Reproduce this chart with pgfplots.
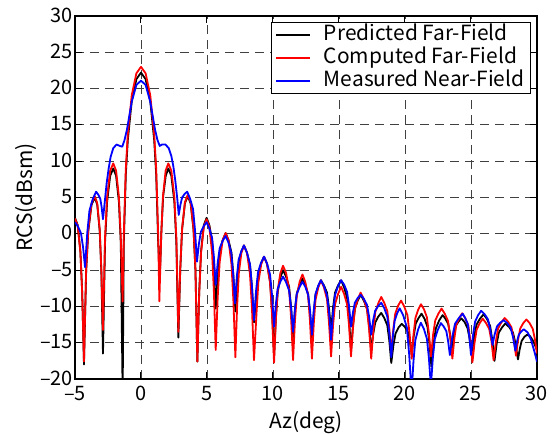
\documentclass[border=0pt]{standalone}
\usepackage{fontspec}
\setmainfont{Noto Sans CJK JP}
\usepackage{pgfplots}
\pgfplotsset{compat=1.18}
\pgfplotsset{myleg/.style={legend image code/.code={\draw[##1,line width=1.8bp] (0bp,0bp) -- (34bp,0bp);}}}
\begin{document}
\begin{tikzpicture}
\useasboundingbox (-75bp,-55bp) rectangle (479bp,379bp);
\begin{axis}[
  scale only axis, width=462bp, height=363bp,
  xmin=-5, xmax=30, ymin=-20, ymax=30,
  xtick={-5,0,5,10,15,20,25,30},
  xticklabels={–5,0,5,10,15,20,25,30},
  ytick={-20,-15,-10,-5,0,5,10,15,20,25,30},
  yticklabels={–20,–15,–10,–5,0,5,10,15,20,25,30},
  tick label style={font=\fontsize{20}{20}\selectfont},
  yticklabel style={xshift=1.5bp, yshift=1bp},
  xticklabel style={yshift=-4bp},
  label style={font=\fontsize{21}{21}\selectfont},
  xlabel={Az(deg)}, ylabel={RCS(dBsm)},
  xlabel shift=3bp, ylabel shift=-3bp,
  grid=major,
  major grid style={draw=black!75, line width=0.9bp, dash pattern=on 9bp off 6bp},
  axis line style={line width=1.2bp},
  major tick style={line width=1bp, black},
  major tick length=7bp,
  tick align=inside,
  every axis plot/.append style={line width=1.8bp, line join=round},
  legend style={at={(1,1)}, anchor=north east, xshift=-6bp, yshift=-6bp,
    line width=1.2bp, fill=white,
    font=\fontsize{21}{21}\selectfont, inner xsep=4bp, inner ysep=1bp, row sep=0bp,
    nodes={inner sep=2bp, text height=15bp, text depth=4bp},
    /tikz/every odd column/.append style={column sep=11bp}},
  legend cell align=left,
]
% predicted far-field
\addplot[black, myleg] coordinates {
(-5.0,2.2) (-4.796,1.2) (-4.592,-2.4) (-4.456,-8.0) (-4.32,-18.0)
(-4.156,-5.2) (-3.992,0.4) (-3.746,4.0) (-3.5,5.0) (-3.314,4.0) (-3.128,0.4) (-3.004,-5.2) (-2.88,-16.5)
(-2.724,-1.2) (-2.568,4.4) (-2.334,8.0) (-2.1,9.0) (-1.887,8.0) (-1.674,4.4) (-1.532,-1.2) (-1.39,-22)
(-1.3,-1.0) (-1.15,8.2) (-1.0,12.9) (-0.7,18.3) (-0.35,21.3) (0,22.2) (0.35,21.3) (0.7,18.3) (1.0,12.9) (1.15,8.2) (1.3,-1.0) (1.42,-6.3)
(1.55,0.6) (1.68,5.2) (1.875,8.0) (2.07,9.0) (2.298,8.0) (2.526,4.4) (2.678,-1.2) (2.83,-14.3)
(2.972,-5.0) (3.114,0.6) (3.327,4.2) (3.54,5.2) (3.759,4.2) (3.978,0.6) (4.124,-5.0) (4.27,-17.6)
(4.41,-8.0) (4.55,-2.4) (4.76,1.2) (4.97,2.2) (5.177,1.2) (5.384,-0.9) (5.522,-4.7) (5.66,-10.3)
(5.81,-5.6) (5.96,-2.5) (6.185,-0.9) (6.41,0.1) (6.632,-0.9) (6.854,-2.6) (7.002,-5.8) (7.15,-10.7)
(7.28,-6.6) (7.41,-3.9) (7.605,-2.5) (7.8,-1.6) (8.028,-2.6) (8.256,-4.25) (8.408,-7.4) (8.56,-12.2)
(8.75,-8.15) (8.89,-5.4) (9.11,-4.05) (9.32,-3.15) (9.55,-4.15) (9.78,-6.6) (9.93,-10.7) (10.08,-16.9)
(10.22,-11.5) (10.36,-8.0) (10.56,-6.0) (10.76,-5.0) (10.99,-5.9) (11.22,-7.3) (11.37,-10.1) (11.52,-14.3)
(11.66,-10.65) (11.80,-8.2) (12.02,-7.0) (12.23,-6.2) (12.44,-7.0) (12.66,-8.3) (12.80,-10.8) (12.95,-14.5)
(13.09,-10.85) (13.22,-8.4) (13.43,-7.2) (13.63,-6.4) (13.86,-7.1) (14.09,-8.1) (14.24,-10.2) (14.40,-13.3)
(14.55,-10.2) (14.70,-8.1) (14.93,-7.1) (15.16,-6.4) (15.39,-7.4) (15.61,-8.8) (15.76,-11.7) (15.91,-16.0)
(16.06,-12.6) (16.21,-10.3) (16.42,-9.2) (16.64,-8.4) (16.88,-9.2) (17.12,-10.3) (17.28,-12.6) (17.44,-16.0)
(17.60,-13.7) (17.75,-12.2) (17.98,-11.4) (18.20,-10.9) (18.43,-11.6) (18.66,-12.6) (18.81,-14.7) (18.96,-17.8)
(19.12,-15.4) (19.28,-13.75) (19.51,-12.9) (19.75,-12.4) (19.98,-12.8) (20.21,-13.45) (20.36,-14.7) (20.51,-16.6)
(20.66,-14.1) (20.81,-12.4) (21.03,-11.6) (21.25,-11.0) (21.48,-11.7) (21.70,-12.8) (21.85,-15.0) (22.00,-18.3)
(22.17,-15.1) (22.34,-13.0) (22.60,-11.9) (22.85,-11.2) (23.06,-11.7) (23.27,-12.4) (23.41,-13.8) (23.55,-16.0)
(23.69,-14.0) (23.84,-12.7) (24.05,-12.1) (24.27,-11.65) (24.51,-12.15) (24.74,-13.0) (24.90,-14.5) (25.06,-16.8)
(25.24,-14.2) (25.42,-12.5) (25.68,-11.7) (25.95,-11.1) (26.20,-11.7) (26.45,-12.7) (26.61,-14.6) (26.78,-17.5)
(26.94,-15.2) (27.11,-13.6) (27.35,-12.9) (27.60,-12.35) (27.89,-12.85) (28.18,-13.6) (28.37,-15.1) (28.56,-17.3)
(28.70,-15.8) (28.84,-14.75) (29.04,-14.2) (29.25,-13.9) (29.48,-14.1) (29.72,-14.8) (30.0,-16.0)
};
% computed far-field
\addplot[red, myleg] coordinates {
(-5.0,2.1) (-4.796,1.1) (-4.592,-2.5) (-4.456,-8.1) (-4.32,-17.6)
(-4.156,-5.0) (-3.992,0.6) (-3.746,4.2) (-3.5,5.2) (-3.314,4.2) (-3.128,0.6) (-3.004,-4.9) (-2.88,-13.25)
(-2.724,-0.5) (-2.568,5.1) (-2.334,8.7) (-2.1,9.7) (-1.887,8.7) (-1.674,5.1) (-1.532,-0.5) (-1.39,-9.35)
(-1.3,0) (-1.15,9.0) (-1.0,13.7) (-0.7,19.1) (-0.35,22.1) (0,23.0) (0.35,22.1) (0.7,19.1) (1.0,13.7) (1.15,9.0) (1.3,0) (1.39,-9.3)
(1.526,-0.5) (1.662,5.1) (1.866,8.7) (2.07,9.7) (2.298,8.7) (2.526,5.1) (2.678,-0.5) (2.83,-13.5)
(2.972,-4.85) (3.114,0.75) (3.327,4.35) (3.54,5.35) (3.759,4.35) (3.978,0.75) (4.124,-4.85) (4.27,-17.6)
(4.41,-8.2) (4.55,-2.6) (4.76,1.0) (4.97,2.0) (5.177,1.0) (5.384,-2.6) (5.522,-7.9) (5.66,-16.0)
(5.81,-8.8) (5.96,-3.9) (6.185,-0.9) (6.41,0.1) (6.632,-0.9) (6.854,-4.2) (7.002,-9.3) (7.15,-17.0)
(7.28,-10.1) (7.41,-5.45) (7.605,-2.6) (7.8,-1.6) (8.028,-2.6) (8.256,-5.55) (8.408,-10.3) (8.56,-17.4)
(8.75,-11.0) (8.89,-6.7) (9.11,-4.15) (9.32,-3.15) (9.55,-4.15) (9.78,-6.8) (9.93,-11.2) (10.08,-17.75)
(10.22,-11.7) (10.36,-7.7) (10.56,-5.4) (10.76,-4.4) (10.99,-5.4) (11.22,-7.65) (11.37,-11.55) (11.52,-17.4)
(11.66,-12.1) (11.80,-8.55) (12.02,-6.6) (12.23,-5.6) (12.44,-6.6) (12.66,-8.5) (12.80,-12.0) (12.95,-17.2)
(13.09,-12.35) (13.22,-9.1) (13.43,-7.4) (13.63,-6.4) (13.86,-7.4) (14.09,-9.0) (14.24,-12.2) (14.40,-16.9)
(14.55,-12.6) (14.70,-9.7) (14.93,-8.3) (15.16,-7.3) (15.39,-8.3) (15.61,-9.7) (15.76,-12.6) (15.91,-16.9)
(16.06,-12.95) (16.21,-10.3) (16.42,-9.0) (16.64,-8.1) (16.88,-9.0) (17.12,-10.4) (17.28,-13.1) (17.44,-17.2)
(17.60,-13.4) (17.75,-10.8) (17.98,-9.55) (18.20,-8.7) (18.43,-9.5) (18.66,-10.65) (18.81,-13.0) (18.96,-16.5)
(19.11,-13.2) (19.26,-11.0) (19.48,-9.9) (19.70,-9.2) (19.94,-10.0) (20.18,-11.2) (20.34,-13.6) (20.51,-17.2)
(20.65,-13.8) (20.79,-11.6) (21.00,-10.45) (21.21,-9.7) (21.44,-10.4) (21.66,-11.5) (21.81,-13.7) (21.97,-16.9)
(22.13,-13.9) (22.29,-11.95) (22.53,-11.0) (22.77,-10.3) (23.01,-11.0) (23.26,-12.0) (23.42,-14.1) (23.59,-17.2)
(23.74,-14.4) (23.89,-12.5) (24.11,-11.6) (24.33,-10.95) (24.56,-11.6) (24.80,-12.65) (24.95,-14.7) (25.11,-17.7)
(25.27,-15.0) (25.43,-13.2) (25.66,-12.3) (25.89,-11.7) (26.14,-12.3) (26.38,-13.1) (26.55,-14.8) (26.71,-17.4)
(26.89,-14.8) (27.05,-13.05) (27.30,-12.2) (27.55,-11.6) (27.81,-12.1) (28.07,-12.9) (28.24,-14.5) (28.41,-16.8)
(28.57,-14.55) (28.73,-13.05) (28.96,-12.3) (29.20,-11.8) (29.44,-12.3) (29.68,-13.1) (29.84,-14.5) (30.0,-16.5)
};
% measured near-field
\addplot[blue, myleg] coordinates {
(-5.0,1.6) (-4.772,1.0) (-4.544,0.05) (-4.392,-1.8) (-4.24,-4.6)
(-4.072,0.1) (-3.904,3.2) (-3.652,4.8) (-3.4,5.8) (-3.244,5.4) (-3.088,4.85) (-2.984,3.7) (-2.88,2.0)
(-2.75,4.3) (-2.6,7.0) (-2.45,9.0) (-2.3,10.6) (-2.1,11.8) (-1.85,12.3) (-1.6,12.1) (-1.42,12.0) (-1.25,12.9) (-1.07,14.3)
(-0.7,18.2) (-0.35,20.5) (0,21.1) (0.35,20.5) (0.7,18.2) (1.07,14.3) (1.25,12.9) (1.42,12.1) (1.6,12.3) (1.85,12.3) (2.1,11.8) (2.3,10.7) (2.45,9.3) (2.6,7.3) (2.75,4.8) (2.86,2.6)
(2.988,4.0) (3.116,5.0) (3.308,5.5) (3.5,5.8) (3.722,4.83) (3.944,3.4) (4.092,0.5) (4.24,-3.85)
(4.386,-1.4) (4.532,0.24) (4.751,1.06) (4.97,1.6) (5.177,0.74) (5.384,-0.56) (5.522,-3.16) (5.66,-7.05)
(5.81,-4.0) (5.96,-2.0) (6.185,-0.98) (6.41,-0.3) (6.623,-1.2) (6.836,-2.6) (6.978,-5.4) (7.12,-9.6)
(7.256,-6.0) (7.392,-3.6) (7.596,-2.4) (7.8,-1.6) (8.028,-2.6) (8.256,-4.2) (8.408,-7.3) (8.56,-11.9)
(8.712,-7.95) (8.864,-5.3) (9.092,-4.0) (9.32,-3.15) (9.548,-4.1) (9.776,-5.6) (9.928,-8.45) (10.08,-12.8)
(10.216,-9.7) (10.352,-7.6) (10.556,-6.6) (10.76,-5.9) (10.988,-6.66) (11.216,-7.8) (11.368,-10.1) (11.52,-13.5)
(11.66,-10.4) (11.80,-8.3) (12.02,-7.3) (12.23,-6.6) (12.45,-7.3) (12.66,-8.4) (12.81,-10.6) (12.95,-13.9)
(13.09,-10.5) (13.22,-8.3) (13.43,-7.15) (13.63,-6.4) (13.86,-7.2) (14.09,-8.45) (14.25,-10.9) (14.40,-14.6)
(14.55,-10.9) (14.70,-8.45) (14.93,-7.2) (15.16,-6.4) (15.39,-7.0) (15.61,-8.0) (15.76,-9.9) (15.91,-12.8)
(16.06,-10.8) (16.20,-9.5) (16.42,-8.84) (16.64,-8.4) (16.88,-8.95) (17.12,-9.8) (17.28,-11.4) (17.44,-13.9)
(17.59,-11.9) (17.74,-10.6) (17.97,-9.94) (18.20,-9.5) (18.43,-10.25) (18.66,-11.4) (18.81,-13.6) (18.96,-17.0)
(19.09,-13.96) (19.22,-11.95) (19.41,-10.93) (19.60,-10.26) (19.87,-11.26) (20.14,-12.9) (20.32,-16.7) (20.50,-22)
(20.64,-17.6) (20.78,-14.7) (20.99,-13.2) (21.20,-12.25) (21.43,-13.1) (21.66,-14.45) (21.81,-17.1) (21.96,-21)
(22.11,-17.1) (22.26,-14.5) (22.49,-13.2) (22.72,-12.3) (22.92,-12.74) (23.13,-13.4) (23.26,-14.7) (23.40,-16.7)
(23.59,-14.1) (23.79,-12.4) (24.08,-11.6) (24.37,-11.0) (24.56,-11.6) (24.75,-12.4) (24.87,-14.1) (25.00,-16.7)
(25.15,-14.0) (25.31,-12.1) (25.54,-11.2) (25.77,-10.6) (26.03,-11.07) (26.29,-11.8) (26.46,-13.2) (26.63,-15.3)
(26.80,-13.8) (26.97,-12.75) (27.22,-12.24) (27.47,-11.9) (27.74,-12.3) (28.00,-12.95) (28.18,-14.2) (28.36,-16.1)
(28.49,-14.8) (28.62,-13.9) (28.81,-13.45) (29.00,-13.15) (29.30,-13.6) (29.55,-14.6) (29.80,-16.2) (30.0,-17.6)
};
\legend{Predicted Far-Field,Computed Far-Field,Measured Near-Field}
\end{axis}
\end{tikzpicture}
\end{document}
